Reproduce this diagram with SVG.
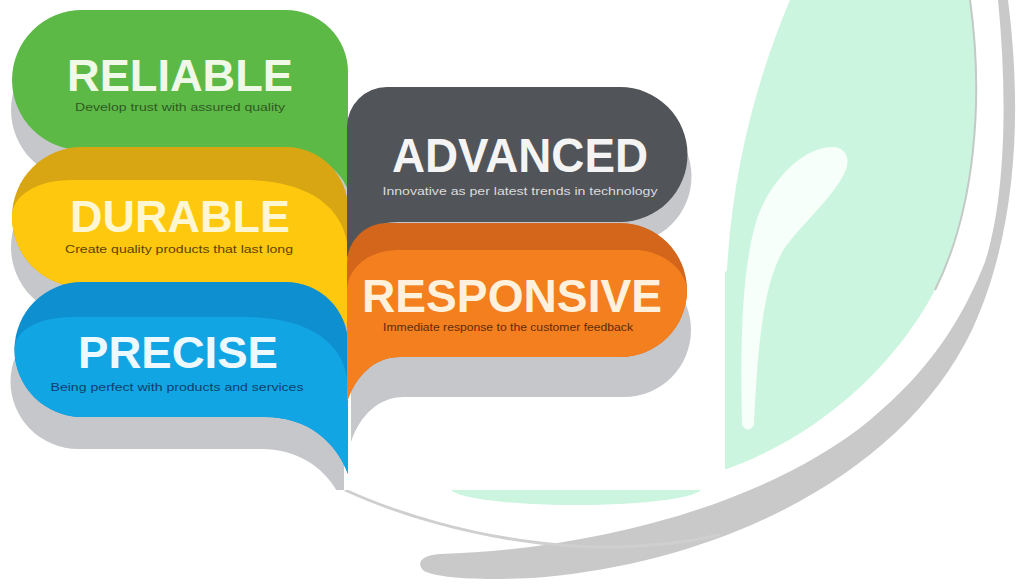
<svg xmlns="http://www.w3.org/2000/svg" width="1018" height="585" viewBox="0 0 1018 585">
<defs>
<style>
.title{font-family:"Liberation Sans",Arial,sans-serif;font-weight:700;text-anchor:middle}
.sub{font-family:"Liberation Sans",Arial,sans-serif;font-size:11px;text-anchor:middle}
.shadow{fill:#c6c7cb}
.mint{fill:#cbf5df}
</style>
<clipPath id="card"><rect x="0" y="0" width="725" height="490"/></clipPath>
</defs>
<rect width="1018" height="585" fill="#ffffff"/>
<g id="background">
  <path id="leaf" class="mint" d="M 790 0 L 970 0 C 984 100 975 210 935 290 C 890 375 810 440 724 470 L 700 480 L 700 300 L 727 270 C 732 180 752 90 790 0 Z"/>
  <path d="M 970 0 C 984 100 975 210 935 290" fill="none" stroke="#c3c9c5" stroke-width="2"/>
  <ellipse class="mint" cx="576" cy="488" rx="126" ry="17"/>
  <path id="leaf-highlight" fill="#f6fffa" d="M 832 147 C 846 147 851 159 845 172 C 834 196 806 220 786 246 C 766 276 758 330 754 425 Q 748 434 742 425 C 740 340 742 270 756 222 C 769 180 804 147 832 147 Z"/>
  <path id="swoosh" fill="#c9c9c9" d="M 1008 0 C 1022 110 1018 230 972 330 C 905 470 730 560 545 577 C 490 581 440 579 424 571 C 416 564 420 555 440 554 C 580 550 760 510 870 420 C 930 370 962 320 985 262 C 1005 200 1008 100 998 0 Z"/>
  <path d="M 345 490 C 400 515 470 535 540 543 C 600 550 660 548 720 535" fill="none" stroke="#cfcfcf" stroke-width="3"/>
</g>
<rect x="0" y="0" width="725" height="490" fill="#ffffff"/>
<g clip-path="url(#card)">
  <g id="reliable">
    <path class="shadow" transform="translate(-1,30)" d="M 82 10 H 286 A 62 62 0 0 1 348 72 V 190 C 338 165 312 150 272 150 H 82 A 70 70 0 0 1 82 10 Z"/>
    <path fill="#5db946" d="M 82 10 H 286 A 62 62 0 0 1 348 72 V 190 C 338 165 312 150 272 150 H 82 A 70 70 0 0 1 82 10 Z"/>
    <text class="title" x="180" y="91" font-size="44" textLength="226" lengthAdjust="spacingAndGlyphs" fill="#f0f9e8">RELIABLE</text>
    <text class="sub" x="180" y="111" textLength="210" lengthAdjust="spacingAndGlyphs" fill="#2f5a22">Develop trust with assured quality</text>
  </g>
  <g id="durable">
    <path class="shadow" transform="translate(-1,30)" d="M 82 147 H 286 A 62 62 0 0 1 348 209 V 330 C 338 305 312 287 272 287 H 82 A 70 70 0 0 1 82 147 Z"/>
    <path fill="#d9a613" d="M 82 147 H 286 A 62 62 0 0 1 348 209 V 330 C 338 305 312 287 272 287 H 82 A 70 70 0 0 1 82 147 Z"/>
    <path fill="#fdc80d" d="M 72 180 H 245 C 305 180 345 205 348 250 V 330 C 338 305 312 287 272 287 H 82 A 70 70 0 0 1 12 217 C 12 196 36 180 72 180 Z"/>
    <text class="title" x="180" y="232" font-size="44" textLength="220" lengthAdjust="spacingAndGlyphs" fill="#fff6d2">DURABLE</text>
    <text class="sub" x="179" y="253" textLength="228" lengthAdjust="spacingAndGlyphs" fill="#5b4300">Create quality products that last long</text>
  </g>
  <g id="precise">
    <path class="shadow" transform="translate(-4,32)" d="M 82 282 H 286 A 62 62 0 0 1 348 344 V 474 C 336 442 308 417 265 417 H 82 A 67.5 67.5 0 0 1 82 282 Z"/>
    <path fill="#0e8fcf" d="M 82 282 H 286 A 62 62 0 0 1 348 344 V 474 C 336 442 308 417 265 417 H 82 A 67.5 67.5 0 0 1 82 282 Z"/>
    <path fill="#12a5e4" d="M 72 317 H 245 C 305 317 345 340 348 385 V 474 C 336 442 308 417 265 417 H 82 A 67.5 67.5 0 0 1 14.5 349.5 C 14.5 331 38 317 72 317 Z"/>
    <text class="title" x="178" y="368" font-size="45" textLength="200" lengthAdjust="spacingAndGlyphs" fill="#ecf9ff">PRECISE</text>
    <text class="sub" x="177" y="391" textLength="253" lengthAdjust="spacingAndGlyphs" fill="#0d3f6e">Being perfect with products and services</text>
  </g>
  <g id="advanced">
    <path class="shadow" transform="translate(4,22)" d="M 387 87 H 620 A 67.5 67.5 0 0 1 620 222 H 398 C 374 222 356 236 347 258 V 127 A 40 40 0 0 1 387 87 Z"/>
    <path fill="#515458" d="M 387 87 H 620 A 67.5 67.5 0 0 1 620 222 H 398 C 374 222 356 236 347 258 V 127 A 40 40 0 0 1 387 87 Z"/>
    <text class="title" x="520" y="172" font-size="49" textLength="256" lengthAdjust="spacingAndGlyphs" fill="#f4f4f4">ADVANCED</text>
    <text class="sub" x="520" y="195" textLength="275" lengthAdjust="spacingAndGlyphs" fill="#dcdcdc">Innovative as per latest trends in technology</text>
  </g>
  <g id="responsive">
    <path class="shadow" transform="translate(4,40)" d="M 387 223 H 620 A 67 67 0 0 1 620 357 H 400 C 375 357 356 375 347 402 V 263 A 40 40 0 0 1 387 223 Z"/>
    <path fill="#d4661b" d="M 387 223 H 620 A 67 67 0 0 1 620 357 H 400 C 375 357 356 375 347 402 V 263 A 40 40 0 0 1 387 223 Z"/>
    <path fill="#f37f1f" d="M 398 250 H 640 C 668 254 686 272 687 290 A 67 67 0 0 1 620 357 H 400 C 375 357 356 375 347 402 V 292 C 347 267 370 250 398 250 Z"/>
    <text class="title" x="512" y="312" font-size="46" textLength="300" lengthAdjust="spacingAndGlyphs" fill="#fff1dc">RESPONSIVE</text>
    <text class="sub" x="508" y="331" textLength="250" lengthAdjust="spacingAndGlyphs" fill="#5e2c06">Immediate response to the customer feedback</text>
  </g>
</g>
<g id="connectors"></g>
</svg>
